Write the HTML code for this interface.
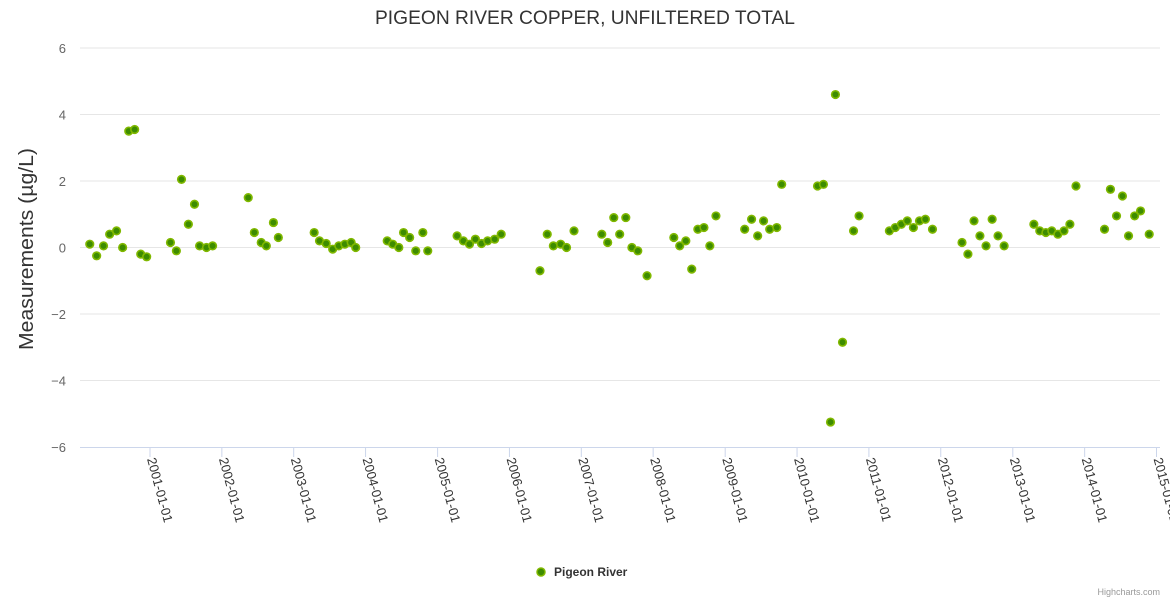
<!DOCTYPE html>
<html><head><meta charset="utf-8"><style>
html,body{margin:0;padding:0;background:#fff;}
svg{display:block;font-family:"Liberation Sans","DejaVu Sans",sans-serif;}
</style></head><body>
<svg id="chart" width="1170" height="600" viewBox="0 0 1170 600" xmlns="http://www.w3.org/2000/svg">
<text x="585" y="24" text-anchor="middle" font-size="19" fill="#333" textLength="420" lengthAdjust="spacingAndGlyphs">PIGEON RIVER COPPER, UNFILTERED TOTAL</text>
<text transform="translate(33,249) rotate(-90)" text-anchor="middle" font-size="20" fill="#333" textLength="202" lengthAdjust="spacingAndGlyphs">Measurements (µg/L)</text>
<g id="grid"></g><g id="yticks"></g><g id="xaxis"></g><g id="points"></g>
<g>
<circle cx="541" cy="572" r="4" fill="#3d8c00" stroke="#80b800" stroke-width="1.5"/>
<text x="554" y="576" font-size="12" font-weight="bold" fill="#333">Pigeon River</text>
</g>
<text x="1160" y="595" text-anchor="end" font-size="9" fill="#999">Highcharts.com</text>
</svg>
<script>
const dates=["2000-03-01","2000-04-05","2000-05-10","2000-06-10","2000-07-15","2000-08-15","2000-09-15","2000-10-15","2000-11-15","2000-12-15",
"2001-04-15","2001-05-15","2001-06-10","2001-07-15","2001-08-15","2001-09-10","2001-10-15","2001-11-15",
"2002-05-15","2002-06-15","2002-07-20","2002-08-15","2002-09-20","2002-10-15",
"2003-04-15","2003-05-12","2003-06-15","2003-07-18","2003-08-18","2003-09-18","2003-10-20","2003-11-12",
"2004-04-20","2004-05-18","2004-06-18","2004-07-12","2004-08-12","2004-09-12","2004-10-18","2004-11-12",
"2005-04-10","2005-05-12","2005-06-12","2005-07-12","2005-08-12","2005-09-12","2005-10-18","2005-11-20",
"2006-06-05","2006-07-12","2006-08-12","2006-09-18","2006-10-18","2006-11-25",
"2007-04-15","2007-05-15","2007-06-15","2007-07-15","2007-08-15","2007-09-15","2007-10-15","2007-12-01",
"2008-04-15","2008-05-15","2008-06-15","2008-07-15","2008-08-15","2008-09-15","2008-10-15","2008-11-15",
"2009-04-10","2009-05-15","2009-06-15","2009-07-15","2009-08-15","2009-09-20","2009-10-15",
"2010-04-15","2010-05-15","2010-06-20","2010-07-15","2010-08-20","2010-10-15","2010-11-12",
"2011-04-15","2011-05-15","2011-06-15","2011-07-15","2011-08-15","2011-09-15","2011-10-15","2011-11-20",
"2012-04-18","2012-05-18","2012-06-18","2012-07-18","2012-08-18","2012-09-18","2012-10-18","2012-11-18",
"2013-04-18","2013-05-18","2013-06-18","2013-07-18","2013-08-18","2013-09-18","2013-10-18","2013-11-18",
"2014-04-12","2014-05-12","2014-06-12","2014-07-12","2014-08-12","2014-09-12","2014-10-12","2014-11-25"];
const values=[0.1,-0.25,0.05,0.4,0.5,0.0,3.5,3.55,-0.2,-0.28,
0.15,-0.1,2.05,0.7,1.3,0.05,0.0,0.05,
1.5,0.45,0.15,0.05,0.75,0.3,
0.45,0.2,0.12,-0.05,0.05,0.1,0.15,0.0,
0.2,0.1,0.0,0.45,0.3,-0.1,0.45,-0.1,
0.35,0.2,0.1,0.25,0.12,0.2,0.25,0.4,
-0.7,0.4,0.05,0.1,0.0,0.5,
0.4,0.15,0.9,0.4,0.9,0.0,-0.1,-0.85,
0.3,0.05,0.2,-0.65,0.55,0.6,0.05,0.95,
0.55,0.85,0.35,0.8,0.55,0.6,1.9,
1.85,1.9,-5.25,4.6,-2.85,0.5,0.95,
0.5,0.6,0.7,0.8,0.6,0.8,0.85,0.55,
0.15,-0.2,0.8,0.35,0.05,0.85,0.35,0.05,
0.7,0.5,0.45,0.5,0.4,0.5,0.7,1.85,
0.55,1.75,0.95,1.55,0.35,0.95,1.1,0.4];
const yTicks=[-6,-4,-2,0,2,4,6];
const xTickLabels=["2001-01-01","2002-01-01","2003-01-01","2004-01-01","2005-01-01","2006-01-01","2007-01-01","2008-01-01","2009-01-01","2010-01-01","2011-01-01","2012-01-01","2013-01-01","2014-01-01","2015-01-01"];

const NS="http://www.w3.org/2000/svg";
const t0=Date.UTC(2001,0,1), YR=365.25*864e5;
function xScale(d){const p=d.split("-").map(Number);return 150+(Date.UTC(p[0],p[1]-1,p[2])-t0)/YR*71.9;}
function yScale(v){return 247.5-v*33.25;}
function mk(tag,attrs,parent){const e=document.createElementNS(NS,tag);for(const k in attrs)e.setAttribute(k,attrs[k]);parent.appendChild(e);return e;}
const grid=document.getElementById("grid"),yt=document.getElementById("yticks"),xa=document.getElementById("xaxis"),pts=document.getElementById("points");
yTicks.forEach(v=>{
  if(v!==-6){const l=mk("line",{x1:80,x2:1160,y1:yScale(v),y2:yScale(v),stroke:"#e6e6e6","stroke-width":1},grid);
  
  }
  const t=mk("text",{x:66,y:yScale(v)+5,"text-anchor":"end","font-size":13,fill:"#666"},yt);
  t.textContent=v<0?"\u2212"+Math.abs(v):String(v);
  
  
});
const ax=mk("line",{x1:80,x2:1160,y1:447.5,y2:447.5,stroke:"#ccd6eb","stroke-width":1},xa);


xTickLabels.forEach(s=>{
  const x=xScale(s);
  const tk=mk("line",{x1:x,x2:x,y1:447,y2:457,stroke:"#ccd6eb","stroke-width":1},xa);
  
  
  const t=mk("text",{transform:`translate(${x-3},${459}) rotate(75)`,"font-size":13,fill:"#333"},xa);
  t.textContent=s;
  
  
});
dates.forEach((d,i)=>{
  const c=mk("circle",{cx:xScale(d),cy:yScale(values[i]),r:3.8,fill:"#3d8c00",stroke:"#80b800","stroke-width":1.6},pts);
  
  
});
</script>
</body></html>
